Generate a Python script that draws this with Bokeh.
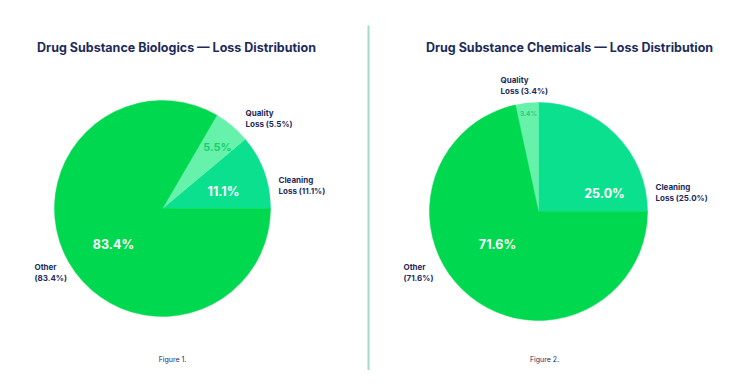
import math
from bokeh.plotting import figure
from bokeh.models import Range1d, ColumnDataSource
from bokeh.core.properties import value
from bokeh.embed import file_html
from bokeh.resources import INLINE

# ---------------- data ----------------
categories = ["Cleaning Loss", "Quality Loss", "Other"]
bio_values = [11.1, 5.5, 83.4]
chem_values = [25.0, 3.4, 71.6]
titles = ["Drug Substance Biologics \u2014 Loss Distribution",
          "Drug Substance Chemicals \u2014 Loss Distribution"]
captions = ["Figure 1.", "Figure 2."]
slice_colors = ["#0BE08E", "#66F2AA", "#00D94F"]

NAVY = "#1D2B5B"
FONT = "Inter"

W, H = 720, 370
p = figure(width=W, height=H, output_backend="svg", toolbar_location=None,
           x_range=Range1d(0, W), y_range=Range1d(0, H), min_border=0)
p.axis.visible = False
p.grid.visible = False
p.outline_line_color = None
p.background_fill_color = "white"


def P(px, py):
    """screenshot pixel -> data coords"""
    return px, H - py


def pie(cx_px, cy_px, r, vals):
    cx, cy = P(cx_px, cy_px)
    total = sum(vals)
    starts, ends = [], []
    acc = 0.0
    for v in vals:
        starts.append(2 * math.pi * acc / total)
        acc += v
        ends.append(2 * math.pi * acc / total)
    src = ColumnDataSource(dict(x=[cx] * len(vals), y=[cy] * len(vals),
                                start=starts, end=ends, color=slice_colors,
                                cat=categories, val=vals))
    p.wedge(x="x", y="y", radius=r, start_angle="start", end_angle="end",
            direction="anticlock", fill_color="color", line_color="color",
            line_width=0.5, source=src)


def txt(px, py, s, size, color=NAVY, style="bold", align="left", baseline="middle"):
    x, y = P(px, py)
    p.text(x=[x], y=[y], text=[s], text_font=value(FONT),
           text_font_size=f"{size}px", text_font_style=style,
           text_color=color, text_align=align, text_baseline=baseline,
           text_line_height=1.15)


# divider
x0, y0 = P(368, 25)
x1, y1 = P(368, 372)
p.line([x0, x1], [y0, y1], line_color="#A3D9CE", line_width=2)

# pies
pie(162, 208, 108, bio_values)
pie(538, 211, 109, chem_values)

# titles
txt(176, 47, titles[0], 12.5, align="center")
txt(569, 47, titles[1], 12.5, align="center")

# in-pie labels (left)
txt(113, 244, f"{bio_values[2]:.1f}%", 12.5, color="white", align="center")
txt(223, 191, f"{bio_values[0]:.1f}%", 12.5, color="white", align="center")
txt(217, 146, f"{bio_values[1]:.1f}%", 11, color="#17D06C", align="center")
# in-pie labels (right)
txt(497, 244, f"{chem_values[2]:.1f}%", 12.5, color="white", align="center")
txt(604, 193, f"{chem_values[0]:.1f}%", 12.5, color="white", align="center")
txt(528, 113, f"{chem_values[1]:.1f}%", 6.5, color="#2FC877", align="center")

# outer labels
def outer(px, py, i, vals):
    name = categories[i].split(" ")
    if categories[i] == "Other":
        s = f"Other\n({vals[i]:.1f}%)"
    else:
        s = f"{name[0]}\n{name[1]} ({vals[i]:.1f}%)"
    txt(px, py, s, 8, style="bold", baseline="middle")

outer(245, 118, 1, bio_values)
outer(278, 185, 0, bio_values)
outer(34, 272, 2, bio_values)
outer(500, 85, 1, chem_values)
outer(655, 192, 0, chem_values)
outer(403, 272, 2, chem_values)

# captions
txt(172, 359, captions[0], 7, style="normal", align="center")
txt(544, 359, captions[1], 7, style="normal", align="center")

open("out.html", "w").write(file_html(p, INLINE))
